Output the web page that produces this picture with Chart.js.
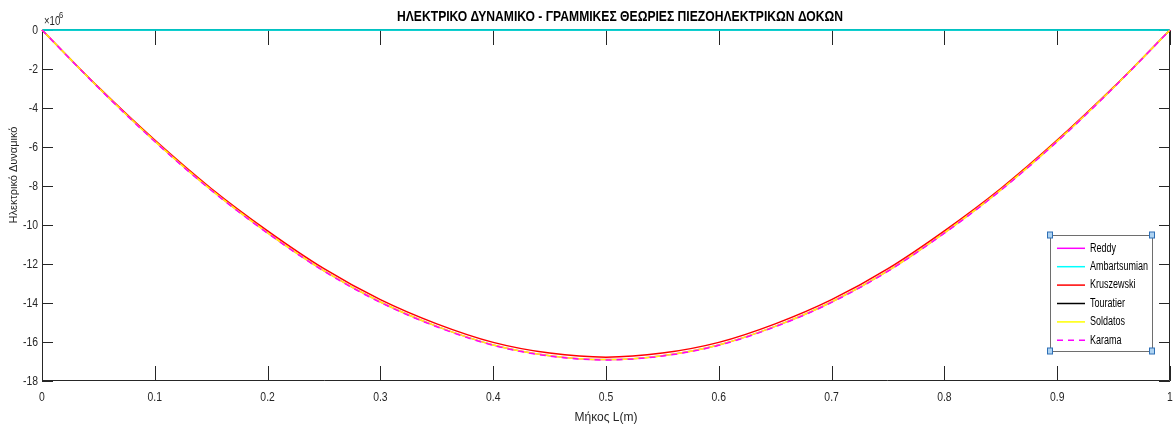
<!DOCTYPE html>
<html>
<head>
<meta charset="utf-8">
<script src="https://cdn.jsdelivr.net/npm/chart.js@4.4.0/dist/chart.umd.min.js"></script>
<style>
    html, body { margin: 0; padding: 0; background: #fff; }
    #wrap { width: 1175px; height: 432px; }
</style>
</head>
<body>
<div id="wrap"><canvas id="chart" width="1175" height="432"></canvas></div>
<script>
/* Electric potential along the beam, values in units of 1e6 */

const xPos = [0, 0.05, 0.1, 0.15, 0.2, 0.25, 0.3, 0.35, 0.4, 0.45, 0.5, 0.55, 0.6, 0.65, 0.7, 0.75, 0.8, 0.85, 0.9, 0.95, 1];

const reddy = [0, -2.95, -5.7, -8.2, -10.4, -12.35, -13.95, -15.2, -16.15, -16.7, -16.9, -16.7, -16.15, -15.2, -13.95, -12.35, -10.4, -8.2, -5.7, -2.95, 0];
const ambartsumian = [0, 0, 0, 0, 0, 0, 0, 0, 0, 0, 0, 0, 0, 0, 0, 0, 0, 0, 0, 0, 0];
const kruszewski = [0, -2.93, -5.65, -8.13, -10.3, -12.24, -13.83, -15.07, -16.02, -16.57, -16.78, -16.57, -16.02, -15.07, -13.83, -12.24, -10.3, -8.13, -5.65, -2.93, 0];
const touratier = [0, 0, 0, 0, 0, 0, 0, 0, 0, 0, 0, 0, 0, 0, 0, 0, 0, 0, 0, 0, 0];
const soldatos = [0, -2.95, -5.7, -8.2, -10.4, -12.35, -13.95, -15.2, -16.15, -16.7, -16.9, -16.7, -16.15, -15.2, -13.95, -12.35, -10.4, -8.2, -5.7, -2.95, 0];
const karama = [0, -2.96, -5.72, -8.22, -10.42, -12.37, -13.97, -15.22, -16.17, -16.72, -16.92, -16.72, -16.17, -15.22, -13.97, -12.37, -10.42, -8.22, -5.72, -2.96, 0];

const seriesNames = ['Reddy', 'Ambartsumian', 'Kruszewski', 'Touratier', 'Soldatos', 'Karama'];
const seriesColors = ['#ff00ff', '#00ffff', '#ff0000', '#000000', '#ffff00', '#ff00ff'];
const seriesDash = [[], [], [], [], [], [6, 5]];
// lower value = drawn on top (Touratier kept under Ambartsumian, as in the picture)
const seriesOrder = [5, 2, 4, 3, 1, 0];

const xTicks = [0, 0.1, 0.2, 0.3, 0.4, 0.5, 0.6, 0.7, 0.8, 0.9, 1];
const yTicks = [0, -2, -4, -6, -8, -10, -12, -14, -16, -18];

const titleText = 'ΗΛΕΚΤΡΙΚΟ ΔΥΝΑΜΙΚΟ - ΓΡΑΜΜΙΚΕΣ ΘΕΩΡΙΕΣ ΠΙΕΖΟΗΛΕΚΤΡΙΚΩΝ ΔΟΚΩΝ';
const xTitle = 'Μήκος L(m)';
const yTitle = 'Ηλεκτρικό Δυναμικό';

const FONT = '"Liberation Sans", Arial, sans-serif';
const AXIS = '#262626';

const allSeries = [reddy, ambartsumian, kruszewski, touratier, soldatos, karama];

const datasets = allSeries.map((vals, i) => ({
    label: seriesNames[i],
    data: xPos.map((x, j) => ({ x, y: vals[j] })),
    borderColor: seriesColors[i],
    borderWidth: 1.5,
    borderDash: seriesDash[i],
    pointRadius: 0,
    fill: false,
    clip: false,
    order: seriesOrder[i],
    cubicInterpolationMode: 'monotone',
}));

// condensed text, the MATLAB export looks narrow
function narrowText(ctx, text, x, y, sx) {
    ctx.save();
    ctx.translate(x, y);
    ctx.scale(sx, 1);
    ctx.fillText(text, 0, 0);
    ctx.restore();
}

// MATLAB-like box: inward ticks on all four sides, tick labels, title, exponent, axis labels, legend
const boxPlugin = {
    id: 'matlabBox',
    beforeDatasetsDraw(chart) {
        const { ctx, chartArea: a, scales } = chart;
        const xs = scales.x, ys = scales.y;
        ctx.save();
        ctx.strokeStyle = AXIS;
        ctx.lineWidth = 1;
        ctx.beginPath();
        ctx.rect(a.left + 0.5, a.top - 0.5, a.right - a.left - 1, a.bottom - a.top);
        ctx.stroke();

        ctx.beginPath();
        xTicks.forEach((v) => {
            const px = Math.round(xs.getPixelForValue(v)) + 0.5;
            ctx.moveTo(px, a.bottom);
            ctx.lineTo(px, a.bottom - 15);
            ctx.moveTo(px, a.top);
            ctx.lineTo(px, a.top + 15);
        });
        yTicks.forEach((v) => {
            const py = Math.round(ys.getPixelForValue(v)) + 0.5;
            ctx.moveTo(a.left, py);
            ctx.lineTo(a.left + 11, py);
            ctx.moveTo(a.right, py);
            ctx.lineTo(a.right - 11, py);
        });
        ctx.stroke();

        // tick labels
        ctx.fillStyle = AXIS;
        ctx.font = '13px ' + FONT;
        ctx.textBaseline = 'middle';
        ctx.textAlign = 'center';
        xTicks.forEach((v) => {
            narrowText(ctx, String(v), xs.getPixelForValue(v), 397, 0.8);
        });
        ctx.textAlign = 'right';
        yTicks.forEach((v) => {
            narrowText(ctx, String(v), a.left - 4, ys.getPixelForValue(v), 0.8);
        });
        ctx.restore();
    },
    afterDatasetsDraw(chart) {
        const { ctx, chartArea: a } = chart;
        ctx.save();

        // title, squeezed to the width it has in the picture
        ctx.fillStyle = '#000';
        ctx.font = 'bold 15px ' + FONT;
        ctx.textAlign = 'center';
        ctx.textBaseline = 'middle';
        narrowText(ctx, titleText, 620, 17, 446 / ctx.measureText(titleText).width);

        // exponent
        ctx.fillStyle = AXIS;
        ctx.textAlign = 'left';
        ctx.textBaseline = 'alphabetic';
        ctx.font = '12px ' + FONT;
        narrowText(ctx, '\u00d710', a.left + 2, a.top - 5, 0.8);
        ctx.font = '9px ' + FONT;
        narrowText(ctx, '6', a.left + 17, a.top - 12, 0.85);

        // axis titles
        ctx.font = '12px ' + FONT;
        ctx.textAlign = 'center';
        ctx.textBaseline = 'middle';
        ctx.fillText(xTitle, 606, 418);
        ctx.save();
        ctx.translate(14, 175);
        ctx.rotate(-Math.PI / 2);
        ctx.font = '11px ' + FONT;
        ctx.fillText(yTitle, 0, 0);
        ctx.restore();

        // legend box
        const L = 1050, T = 235, R = 1152, B = 351;
        ctx.fillStyle = '#fff';
        ctx.fillRect(L, T, R - L, B - T);
        ctx.strokeStyle = '#6e6e6e';
        ctx.lineWidth = 1;
        ctx.strokeRect(L + 0.5, T + 0.5, R - L, B - T);
        ctx.font = '12px ' + FONT;
        ctx.textAlign = 'left';
        seriesNames.forEach((name, i) => {
            const y = 248.3 + i * 18.4;
            ctx.strokeStyle = seriesColors[i];
            ctx.lineWidth = 1.5;
            ctx.setLineDash(seriesDash[i]);
            ctx.beginPath();
            ctx.moveTo(1057, y);
            ctx.lineTo(1085, y);
            ctx.stroke();
            ctx.setLineDash([]);
            ctx.fillStyle = '#000';
            narrowText(ctx, name, 1090, y, 0.75);
        });
        // selection handles at legend corners
        ctx.fillStyle = '#aed3f2';
        ctx.strokeStyle = '#2e6fb5';
        ctx.lineWidth = 1;
        [[L, T], [R, T], [L, B], [R, B]].forEach(([cx, cy]) => {
            ctx.fillRect(cx - 2.5, cy - 3, 5, 6);
            ctx.strokeRect(cx - 2.5, cy - 3, 5, 6);
        });
        ctx.restore();
    },
};

new Chart(document.getElementById('chart'), {
    type: 'line',
    data: { datasets },
    options: {
        responsive: false,
        animation: false,
        layout: { padding: { top: 30, right: 5, left: 0, bottom: 0 } },
        plugins: {
            legend: { display: false },
            title: { display: false },
            tooltip: { enabled: false },
        },
        scales: {
            x: {
                type: 'linear',
                min: 0,
                max: 1,
                afterFit(scale) {
                    scale.height = 51;
                    scale.paddingLeft = 0;
                    scale.paddingRight = 0;
                },
                afterBuildTicks(scale) { scale.ticks = xTicks.map((v) => ({ value: v })); },
                grid: { display: false, drawTicks: false },
                border: { display: false },
                ticks: { display: false },
            },
            y: {
                type: 'linear',
                min: -18,
                max: 0,
                afterFit(scale) {
                    scale.width = 42;
                    scale.paddingTop = 0;
                    scale.paddingBottom = 0;
                },
                afterBuildTicks(scale) { scale.ticks = yTicks.map((v) => ({ value: v })); },
                grid: { display: false, drawTicks: false },
                border: { display: false },
                ticks: { display: false },
            },
        },
    },
    plugins: [boxPlugin],
});
</script>
</body>
</html>
